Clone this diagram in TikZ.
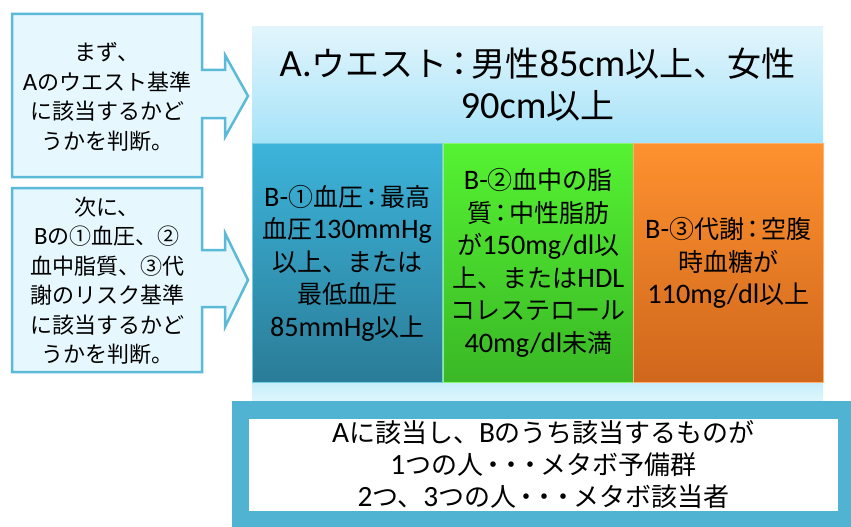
\documentclass[tikz,border=0pt]{standalone}
\usepackage{fontspec}
\setmainfont{Noto Sans CJK JP}
\newfontfamily\latf{Carlito}[Scale=1.13]
\newcommand{\cln}{\hspace{-0.15em}：\hspace{-0.15em}}
\newcommand{\tdots}{\hspace{-0.1em}・\hspace{-0.3em}・\hspace{-0.3em}・\hspace{-0.1em}}
\definecolor{calfill}{HTML}{E6F7FD}
\definecolor{calline}{HTML}{5BBAD8}
\definecolor{banTop}{HTML}{E2F5FC}
\definecolor{banBot}{HTML}{A6E3F8}
\definecolor{stripTop}{HTML}{C6EEFB}
\definecolor{stripBot}{HTML}{E0F6FD}
\definecolor{bluT}{HTML}{3DB4DB}
\definecolor{bluB}{HTML}{2A7C97}
\definecolor{grnT}{HTML}{55F232}
\definecolor{grnB}{HTML}{3AB826}
\definecolor{orgT}{HTML}{FE912F}
\definecolor{orgB}{HTML}{CF671C}
\definecolor{tealc}{HTML}{4FB3D1}
\begin{document}
\begin{tikzpicture}[x=1pt,y=-1pt,
  callout/.style={fill=calfill,draw=calline,line width=2.5pt,line join=miter},
  caltext/.style={align=center,inner sep=0pt,font=\fontsize{22}{29.5}\selectfont},
  bbox/.style={anchor=north west,minimum width=190pt,minimum height=239pt,inner sep=0pt,align=center,
     font=\fontsize{25}{32.5}\selectfont,line width=0.8pt},
  bantext/.style={align=center,inner sep=0pt,font=\fontsize{34}{42}\selectfont}]
\useasboundingbox (0,0) rectangle (851,527);
% background banner
\shade[top color=banTop,bottom color=banBot] (252,27) rectangle (823,143);
\shade[top color=stripTop,bottom color=stripBot] (252,382) rectangle (823,402);
\node[bantext] (A) at (537.5,85) {{\latf A.}ウエスト\cln 男性{\latf 85cm}以上、女性\\{\latf 90cm}以上};
% B boxes
\node[bbox,top color=bluT,bottom color=bluB,draw=bluT!70!white] (B1) at (252,143)
  {{\latf B-}①血圧\cln 最高\\血圧{\latf 130mmHg}\\以上、または\\最低血圧\\{\latf 85mmHg}以上};
\node[bbox,top color=grnT,bottom color=grnB,draw=grnT!70!white] (B2) at (443,143)
  {{\latf B-}②血中の脂\\質\cln 中性脂肪\\が{\latf 150mg/dl}以\\上、または{\latf HDL}\\コレステロール\\{\latf 40mg/dl}未満};
\node[bbox,top color=orgT,bottom color=orgB,draw=orgT!70!white] (B3) at (633,143)
  {{\latf B-}③代謝\cln 空腹\\時血糖が\\{\latf 110mg/dl}以上};
% callouts
\draw[callout] (12,14) -- (202,14) -- (202,70) -- (225,70) -- (225,55) -- (248,96)
  -- (225,137) -- (225,118) -- (202,118) -- (202,177) -- (12,177) -- cycle;
\node[caltext] (c1) at (107,97) {まず、\\{\latf A}のウエスト基準\\に該当するかど\\うかを判断。};
\draw[callout] (12,188) -- (202,188) -- (202,250) -- (225,250) -- (225,233) -- (248,280)
  -- (225,327) -- (225,307) -- (202,307) -- (202,372) -- (12,372) -- cycle;
\node[caltext] (c2) at (107,281) {次に、\\{\latf B}の①血圧、②\\血中脂質、③代\\謝のリスク基準\\に該当するかど\\うかを判断。};
% bottom result
\fill[tealc] (232,401) rectangle (851,527);
\node[fill=white,minimum width=589pt,minimum height=92pt,inner sep=0pt,align=center,
  font=\fontsize{26}{32}\selectfont] (R) at (543.5,465)
  {{\latf A}に該当し、{\latf B}のうち該当するものが\\{\latf 1}つの人\tdots メタボ予備群\\{\latf 2}つ、{\latf 3}つの人\tdots メタボ該当者};
\end{tikzpicture}
\end{document}
